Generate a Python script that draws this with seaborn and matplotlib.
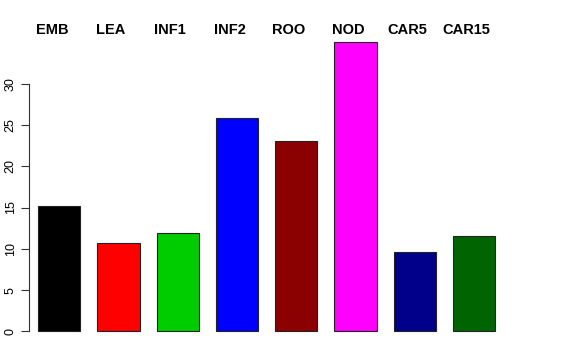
import matplotlib
matplotlib.use("Agg")
import matplotlib.pyplot as plt
import seaborn as sns
import pandas as pd

categories = ["EMB", "LEA", "INF1", "INF2", "ROO", "NOD", "CAR5", "CAR15"]
values = [15.2, 10.65, 11.95, 25.85, 23.1, 35.0, 9.6, 11.55]
colors = ["#000000", "#FF0000", "#00CD00", "#0000FF", "#8B0000", "#FF00FF", "#00008B", "#006400"]
yticks = [0, 5, 10, 15, 20, 25, 30]

sns.set_theme(style="white")
plt.rcParams["font.family"] = ["Liberation Sans", "DejaVu Sans"]
plt.rcParams["text.color"] = "black"
plt.rcParams["ytick.color"] = "black"
plt.rcParams["ytick.labelcolor"] = "black"

df = pd.DataFrame({"cat": categories, "val": values})

fig = plt.figure(figsize=(5.76, 3.6), dpi=100)
ax = fig.add_axes([29 / 576, (360 - 342.9) / 360, (513 - 29) / 576, 312 / 360])

sns.barplot(data=df, x="cat", y="val", hue="cat", palette=colors, order=categories,
            hue_order=categories, dodge=False, legend=False, width=0.714,
            edgecolor="#222222", linewidth=0.8, saturation=1, ax=ax)

ax.set_xlim(-0.5116, 7.66)
ax.set_ylim(-1.4, 36.4)

for s in ["top", "right", "bottom"]:
    ax.spines[s].set_visible(False)
ax.spines["left"].set_bounds(0, 30)
ax.spines["left"].set_color("#333333")
ax.spines["left"].set_linewidth(0.8)

ax.set_xticks([])
ax.set_yticks(yticks)
ax.set_yticklabels([str(t) for t in yticks], rotation=90, va="center", fontsize=9)
ax.tick_params(axis="y", direction="out", length=5.8, width=0.8, color="#333333",
               labelcolor="black", pad=3.0, left=True)
ax.set_xlabel("")
ax.set_ylabel("")

for i, c in enumerate(categories):
    ax.text(i - 0.127, 36.5, c, ha="center", va="center", fontsize=10.5,
            fontweight="bold", color="black", clip_on=False)

fig.savefig("out.png", dpi=100)
